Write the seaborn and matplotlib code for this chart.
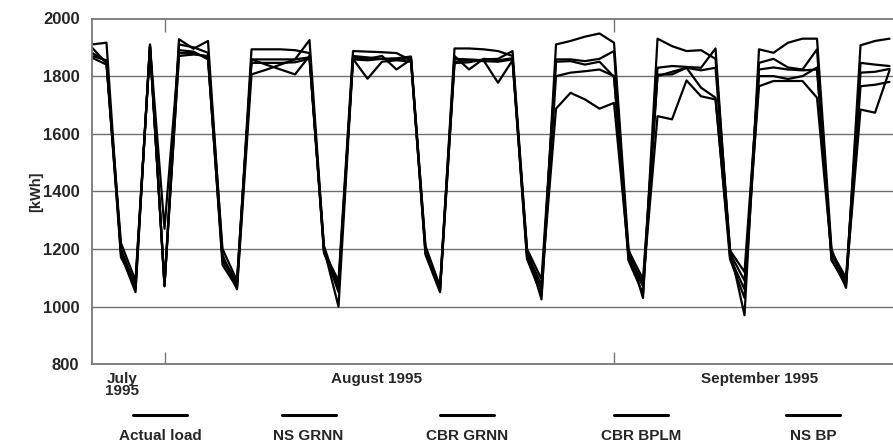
import numpy as np
import pandas as pd
import matplotlib
matplotlib.use("Agg")
import matplotlib.pyplot as plt
import matplotlib.dates as mdates
from matplotlib.lines import Line2D
from matplotlib.transforms import blended_transform_factory
import seaborn as sns

# ---------------- data ----------------
start_date = "1995-07-27"
n_days = 56

series_names = ["Actual load", "NS GRNN", "CBR GRNN", "CBR BPLM", "NS BP"]

actual_load = [1910, 1916, 1180, 1050, 1910, 1070, 1928, 1895, 1922, 1180, 1060,
               1806, 1822, 1840, 1858, 1925, 1200, 1000,
               1858, 1855, 1860, 1862, 1868, 1200, 1055,
               1845, 1848, 1858, 1860, 1887, 1195, 1025,
               1910, 1922, 1937, 1948, 1916, 1200, 1030,
               1930, 1904, 1887, 1890, 1860, 1200, 970,
               1893, 1881, 1916, 1930, 1930, 1200, 1065,
               1907, 1922, 1930]
ns_grnn = [1881, 1850, 1200, 1070, 1905, 1270, 1890, 1885, 1858, 1160, 1075,
           1893, 1893, 1893, 1890, 1880, 1190, 1090,
           1887, 1885, 1883, 1880, 1855, 1185, 1060,
           1896, 1896, 1893, 1887, 1870, 1170, 1060,
           1858, 1858, 1852, 1860, 1887, 1165, 1070,
           1829, 1835, 1832, 1829, 1896, 1170, 1060,
           1846, 1860, 1830, 1823, 1893, 1160, 1080,
           1846, 1840, 1835]
cbr_grnn = [1899, 1845, 1220, 1090, 1900, 1080, 1910, 1900, 1881, 1200, 1090,
            1858, 1858, 1858, 1858, 1865, 1210, 1060,
            1870, 1865, 1860, 1858, 1862, 1210, 1070,
            1870, 1823, 1860, 1855, 1862, 1200, 1095,
            1850, 1852, 1840, 1850, 1797, 1195, 1095,
            1805, 1806, 1829, 1820, 1829, 1195, 1120,
            1823, 1830, 1823, 1820, 1823, 1190, 1100,
            1812, 1815, 1825]
cbr_bplm = [1864, 1840, 1190, 1060, 1908, 1075, 1870, 1875, 1870, 1145, 1065,
            1846, 1846, 1846, 1848, 1860, 1195, 1050,
            1865, 1860, 1870, 1823, 1858, 1180, 1050,
            1850, 1855, 1852, 1850, 1858, 1165, 1040,
            1800, 1812, 1817, 1823, 1800, 1160, 1045,
            1800, 1815, 1829, 1760, 1725, 1165, 1030,
            1800, 1800, 1790, 1800, 1830, 1165, 1070,
            1765, 1770, 1780]
ns_bp = [1870, 1855, 1170, 1080, 1895, 1072, 1880, 1880, 1865, 1170, 1085,
         1858, 1840, 1823, 1806, 1870, 1185, 1075,
         1860, 1791, 1850, 1855, 1850, 1195, 1065,
         1860, 1858, 1855, 1777, 1855, 1185, 1075,
         1687, 1742, 1719, 1687, 1707, 1180, 1080,
         1661, 1650, 1785, 1730, 1719, 1185, 1090,
         1765, 1783, 1783, 1783, 1725, 1180, 1090,
         1684, 1673, 1820]

month_labels = ["July\n1995", "August 1995", "September 1995"]
month_ticks = ["1995-08-01", "1995-09-01"]
y_ticks = [800, 1000, 1200, 1400, 1600, 1800, 2000]

dates = pd.date_range(start_date, periods=n_days, freq="D")
all_vals = [actual_load, ns_grnn, cbr_grnn, cbr_bplm, ns_bp]
df = pd.concat([pd.DataFrame({"date": dates, "kwh": v, "series": name})
                for name, v in zip(series_names, all_vals)], ignore_index=True)

# ---------------- style ----------------
sns.set_style("white")
plt.rcParams["font.family"] = ["Liberation Sans", "DejaVu Sans"]
plt.rcParams["font.weight"] = "bold"

W, H = 893, 445
fig = plt.figure(figsize=(W / 100, H / 100), dpi=100)
ax_left, ax_right, ax_top, ax_bot = 92, 893, 18.5, 364.2
ax = fig.add_axes([ax_left / W, 1 - ax_bot / H, (ax_right - ax_left) / W, (ax_bot - ax_top) / H])

sns.lineplot(data=df, x="date", y="kwh", hue="series", hue_order=series_names,
             palette=["black"] * 5, legend=False, linewidth=1.6, ax=ax, sort=False)

d0 = pd.Timestamp(start_date)
ax.set_xlim(d0, d0 + pd.Timedelta(days=55.24))
ax.set_ylim(800, 2000)
ax.set_yticks(y_ticks)
ax.set_yticklabels([str(t) for t in y_ticks], fontsize=12, fontweight="bold")
for gy in y_ticks[1:-1]:
    ax.axhline(gy, color="#6f6f6f", lw=1.0, zorder=0)

ax.set_xticks([pd.Timestamp(t) for t in month_ticks])
ax.set_xticklabels([])
ax.tick_params(axis="x", direction="in", length=9, width=1.0, color="#777777",
               top=True, bottom=True)
ax.tick_params(axis="y", direction="out", length=5, width=1.2, color="#777777", pad=4)
ax.set_xlabel("")
ax.set_ylabel("[kWh]", fontsize=10.5, fontweight="bold", labelpad=0)

for side in ["left", "bottom", "top"]:
    ax.spines[side].set_color("#777777")
    ax.spines[side].set_linewidth(1.3)
ax.spines["right"].set_visible(False)

# month labels
trans = blended_transform_factory(ax.transData, ax.transAxes)
label_pos = [d0 + pd.Timedelta(days=2.07), d0 + pd.Timedelta(days=19.6), d0 + pd.Timedelta(days=46.07)]
for lbl, pos in zip(month_labels, label_pos):
    ax.text(mdates.date2num(pos), -0.022, lbl, transform=trans, ha="center", va="top",
            fontsize=11, fontweight="bold", linespacing=0.8)

# legend (manual, handle above label)
leg_centers = [160, 308.6, 467, 641, 813]
for name, cx in zip(series_names, leg_centers):
    fig.add_artist(Line2D([(cx - 27) / W, (cx + 27) / W], [1 - 415 / H] * 2,
                          color="black", lw=2.2))
    fig.text(cx / W, 1 - 436 / H, name, ha="center", va="center",
             fontsize=11, fontweight="bold")

fig.savefig("out.png", dpi=100)
